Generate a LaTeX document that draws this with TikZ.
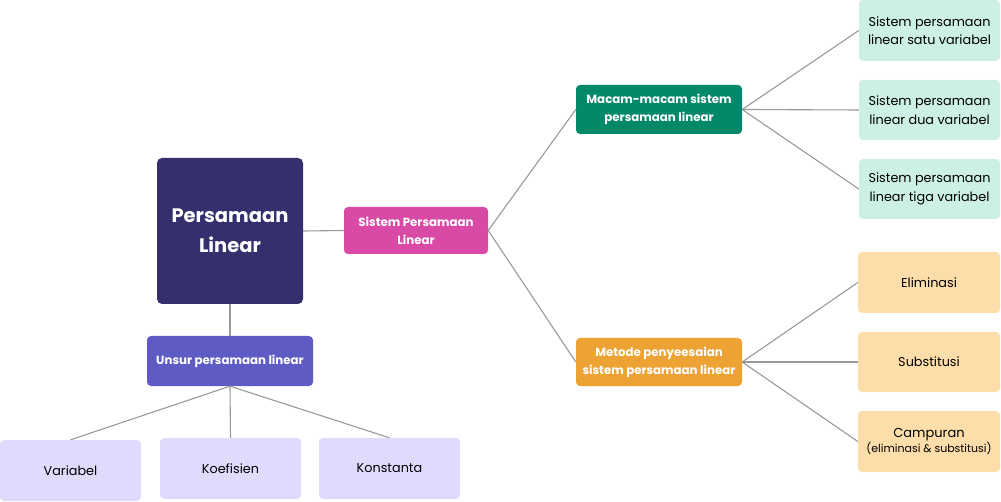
\documentclass[tikz,border=0pt]{standalone}
\usepackage{fontspec}
\setmainfont{Poppins}
\usetikzlibrary{positioning}
\definecolor{navy}{HTML}{352F6E}
\definecolor{pink}{HTML}{D84AA5}
\definecolor{purp}{HTML}{5F5BC4}
\definecolor{lav}{HTML}{E0DBFD}
\definecolor{green}{HTML}{03896A}
\definecolor{orng}{HTML}{EDA333}
\definecolor{mint}{HTML}{CCEFE6}
\definecolor{peach}{HTML}{FDDDA9}
\definecolor{linec}{HTML}{999999}
\tikzset{
  box/.style={rounded corners=4pt, inner sep=0pt, align=center},
  dark/.style={box, text=white, font=\bfseries\fontsize{11.8}{18}\selectfont},
  light/.style={box, text=black, font=\fontsize{12.8}{18.5}\selectfont},
  conn/.style={draw=linec, line width=1.1pt}
}
\begin{document}
\begin{tikzpicture}[x=1pt,y=-1pt]
\useasboundingbox (0,0) rectangle (1001,502);
\fill[navy, rounded corners=5pt] (157,158) rectangle (303,304);
\node[box, text=white, font=\bfseries\fontsize{19.5}{30}\selectfont, minimum width=146pt, minimum height=146pt] (pl) at (230,231) {Persamaan\\Linear};
\fill[pink, rounded corners=4pt] (344,207) rectangle (488,254);
\node[dark, minimum width=144pt, minimum height=47pt] (spl) at (416,230.5) {Sistem Persamaan\\Linear};
\fill[purp, rounded corners=4pt] (147,336) rectangle (313,386);
\node[dark, minimum width=166pt, minimum height=50pt] (un) at (230,361) {Unsur persamaan linear};
\fill[lav, rounded corners=4pt] (0,440) rectangle (141,501);
\node[light, minimum width=141pt, minimum height=61pt] (var) at (70.5,470.5) {Variabel};
\fill[lav, rounded corners=4pt] (160,438) rectangle (301,499);
\node[light, minimum width=141pt, minimum height=61pt] (koe) at (230.5,468.5) {Koefisien};
\fill[lav, rounded corners=4pt] (319,438) rectangle (460,499);
\node[light, minimum width=141pt, minimum height=61pt] (kon) at (389.5,468.5) {Konstanta};
\fill[green, rounded corners=4pt] (576,85) rectangle (742,134);
\node[dark, minimum width=166pt, minimum height=49pt] (mac) at (659,109.5) {Macam-macam sistem\\persamaan linear};
\fill[orng, rounded corners=4pt] (576,338) rectangle (742,386);
\node[dark, minimum width=166pt, minimum height=48pt] (met) at (659,362) {Metode penyeesaian\\sistem persamaan linear};
\fill[mint, rounded corners=4pt] (859,0) rectangle (1000,61);
\node[light, minimum width=141pt, minimum height=61pt] (m1) at (929.5,30.5) {Sistem persamaan\\linear satu variabel};
\fill[mint, rounded corners=4pt] (859,80) rectangle (1000,140);
\node[light, minimum width=141pt, minimum height=60pt] (m2) at (929.5,110) {Sistem persamaan\\linear dua variabel};
\fill[mint, rounded corners=4pt] (859,159) rectangle (1000,219);
\node[light, minimum width=141pt, minimum height=60pt] (m3) at (929.5,189) {Sistem persamaan\\linear tiga variabel};
\fill[peach, rounded corners=4pt] (858,252) rectangle (1000,313);
\node[light, minimum width=142pt, minimum height=61pt] (o1) at (929,282.5) {Eliminasi};
\fill[peach, rounded corners=4pt] (858,332) rectangle (1000,392);
\node[light, minimum width=142pt, minimum height=60pt] (o2) at (929,362) {Substitusi};
\fill[peach, rounded corners=4pt] (858,411) rectangle (1000,472);
\node[box, minimum width=142pt, minimum height=61pt] (o3) at (929,441.5) {{\fontsize{13}{17}\selectfont Campuran}\\{\fontsize{11}{17}\selectfont (eliminasi \& substitusi)}};
% connectors
\draw[conn] (pl.east) -- (spl.west);
\draw[conn] (pl.south) -- (un.north);
\draw[conn] (un.south) -- (var.north);
\draw[conn] (un.south) -- (koe.north);
\draw[conn] (un.south) -- (kon.north);
\draw[conn] (spl.east) -- (mac.west);
\draw[conn] (spl.east) -- (met.west);
\draw[conn] (mac.east) -- (m1.west);
\draw[conn] (mac.east) -- (m2.west);
\draw[conn] (mac.east) -- (m3.west);
\draw[conn] (met.east) -- (o1.west);
\draw[conn] (met.east) -- (o2.west);
\draw[conn] (met.east) -- (o3.west);
\end{tikzpicture}
\end{document}
